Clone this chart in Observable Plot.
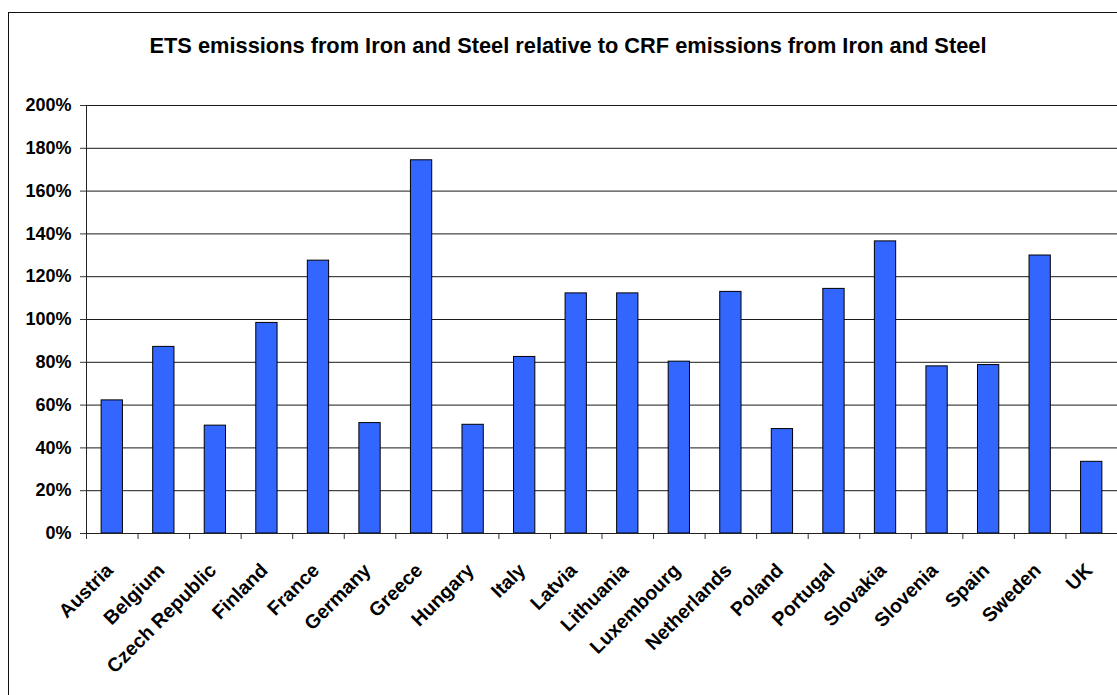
<!DOCTYPE html>
<html>
<head>
<meta charset="utf-8">
<script src="https://cdn.jsdelivr.net/npm/d3@7"></script>
<script src="https://cdn.jsdelivr.net/npm/@observablehq/plot@0.6"></script>
<style>
  html, body { margin: 0; padding: 0; background: #fff; overflow: hidden; }
  body { width: 1117px; height: 695px; position: relative; font-family: "Liberation Sans", Arial, sans-serif; }
  #frame { position: absolute; left: 8px; top: 12px; width: 1200px; height: 800px; border-left: 1.5px solid #111; border-top: 1.5px solid #111; }
  #title { position: absolute; top: 33px; left: 0; width: 1136px; text-align: center; font-weight: bold; font-size: 21.8px; line-height: 26px; color: #000; white-space: nowrap; }
  #chart { position: absolute; left: 0; top: 0; }
</style>
</head>
<body>
<div id="frame"></div>
<div id="title">ETS emissions from Iron and Steel relative to CRF emissions from Iron and Steel</div>
<div id="chart"></div>
<script>
const countries = ["Austria", "Belgium", "Czech Republic", "Finland", "France", "Germany", "Greece", "Hungary", "Italy", "Latvia", "Lithuania", "Luxembourg", "Netherlands", "Poland", "Portugal", "Slovakia", "Slovenia", "Spain", "Sweden", "UK"];
const values = [62.2, 87.2, 50.4, 98.4, 127.5, 51.6, 174.4, 50.8, 82.5, 112.2, 112.2, 80.3, 112.9, 48.8, 114.3, 136.5, 78.1, 78.7, 129.9, 33.5];
const yTicks = [0, 20, 40, 60, 80, 100, 120, 140, 160, 180, 200];

const data = countries.map((c, i) => ({country: c, value: values[i]}));

const W = 1117, H = 695;
const mL = 86, mR = 0, mT = 105, mB = 162;
const step = (W - mL - mR) / countries.length;

const chart = Plot.plot({
  width: W,
  height: H,
  marginLeft: mL,
  marginRight: mR,
  marginTop: mT,
  marginBottom: mB,
  style: {fontFamily: "'Liberation Sans', Arial, sans-serif", background: "transparent", color: "#000", overflow: "visible"},
  x: {domain: countries, paddingInner: 0.587, paddingOuter: 0.2935, round: false, label: null},
  y: {domain: [0, 200], label: null},
  marks: [
    Plot.gridY(yTicks, {stroke: "#1a1a1a", strokeOpacity: 1, strokeWidth: 1}),
    Plot.barY(data, {x: "country", y: "value", fill: "#3366FF", stroke: "#000", strokeWidth: 1}),
    Plot.axisY(yTicks, {tickSize: 6, tickPadding: 9, tickFormat: d => d + "%", fontSize: 18, fontWeight: "bold", stroke: "#333", label: null}),
    Plot.axisX({tickSize: 6, tickFormat: () => "", dx: -step / 2, stroke: "#333", label: null}),
    Plot.text(countries, {x: d => d, frameAnchor: "bottom", dx: 2, dy: 38, rotate: -45, textAnchor: "end", lineAnchor: "bottom", fontSize: 19.5, fontWeight: "bold", fill: "#000"}),
    Plot.ruleX([0], {x: () => countries[0], dx: -step / 2, stroke: "#222"}),
    Plot.ruleY([0], {stroke: "#222"})
  ]
});
document.getElementById("chart").appendChild(chart);
</script>
</body>
</html>
